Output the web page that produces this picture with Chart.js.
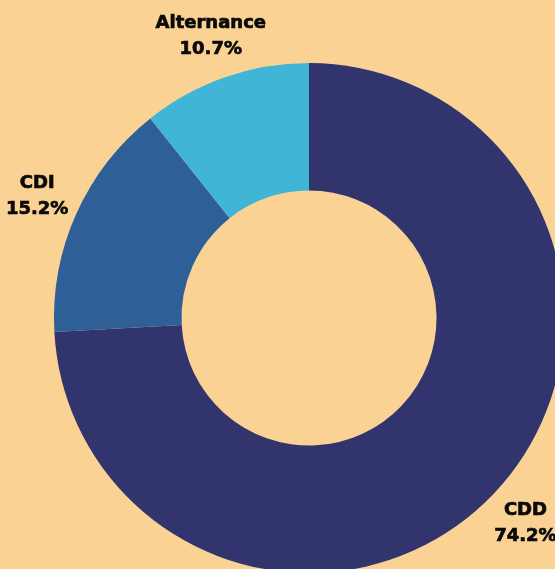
<!DOCTYPE html>
<html>
<head>
<meta charset="utf-8">
<script src="https://cdn.jsdelivr.net/npm/chart.js@4"></script>
<style>
  html, body { margin: 0; padding: 0; background: #f9d294; overflow: hidden; }
  body { width: 555px; height: 569px; position: relative; }
  #wrap { position: absolute; left: 0; top: 0; width: 618px; height: 636px; }
</style>
</head>
<body>
<div id="wrap"><canvas id="chart"></canvas></div>
<script>
const labels = ['CDD', 'CDI', 'Alternance'];
const values = [74.2, 15.2, 10.7];
const colors = ['#31346d', '#2e5f97', '#40b5d5'];

// draws "name / pct" outside each slice
const outerLabels = {
  id: 'outerLabels',
  afterDatasetsDraw(chart) {
    const ctx = chart.ctx;
    const meta = chart.getDatasetMeta(0);
    ctx.save();
    ctx.fillStyle = '#0a0a0a';
    ctx.strokeStyle = '#0a0a0a';
    ctx.lineWidth = 0.7;
    ctx.font = 'bold 18px "DejaVu Sans"';
    ctx.textAlign = 'center';
    ctx.textBaseline = 'middle';
    meta.data.forEach((arc, i) => {
      const p = arc.getProps(['x', 'y', 'startAngle', 'endAngle', 'outerRadius'], true);
      const mid = (p.startAngle + p.endAngle) / 2;
      const r = p.outerRadius + 43;
      const x = p.x + Math.cos(mid) * r;
      const y = p.y + Math.sin(mid) * r;
      const pct = values[i].toFixed(1) + '%';
      ctx.fillText(labels[i], x, y - 13);
      ctx.strokeText(labels[i], x, y - 13);
      ctx.fillText(pct, x, y + 13);
      ctx.strokeText(pct, x, y + 13);
    });
    ctx.restore();
  }
};

new Chart(document.getElementById('chart'), {
  type: 'doughnut',
  data: {
    labels: labels,
    datasets: [{
      data: values,
      backgroundColor: colors,
      borderWidth: 0
    }]
  },
  options: {
    responsive: true,
    maintainAspectRatio: false,
    animation: false,
    cutout: '50%',
    layout: { padding: { left: 54, right: 54, top: 63, bottom: 63 } },
    plugins: {
      legend: { display: false },
      tooltip: { enabled: false }
    }
  },
  plugins: [outerLabels]
});
</script>
</body>
</html>
